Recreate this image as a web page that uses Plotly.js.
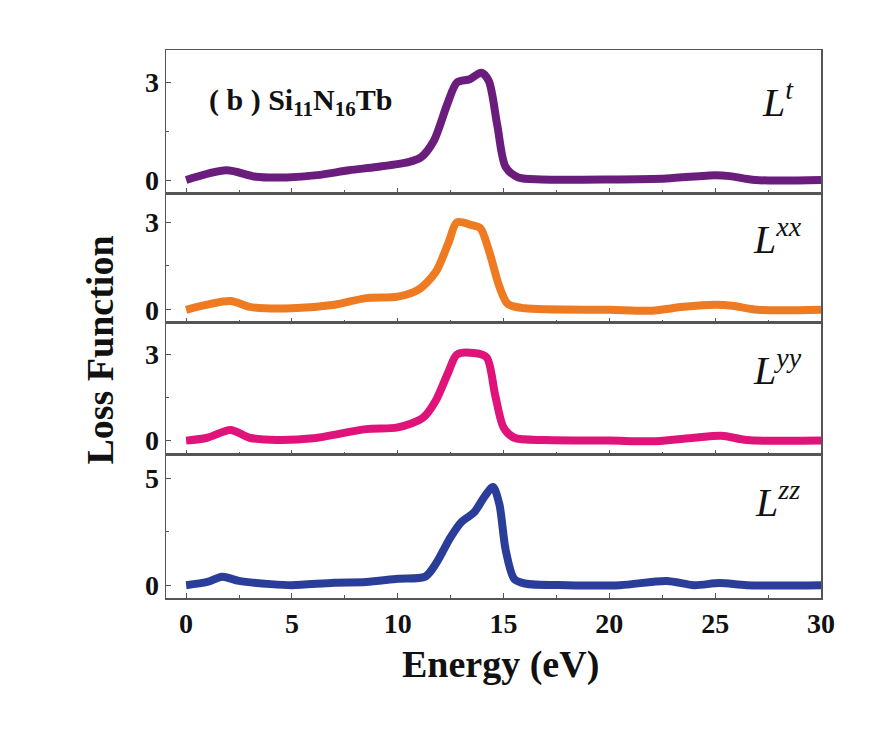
<!DOCTYPE html>
<html><head><meta charset="utf-8">
<script src="https://cdn.plot.ly/plotly-3.0.1.min.js"></script>
<style>html,body{margin:0;padding:0;background:#fff}#c{width:888px;height:734px}</style>
</head><body><div id="c"></div>
<script>
const xT = [0,1.9,3.3,4.75,6.2,7.7,9.0,10.5,11.1,11.7,12.35,12.8,13.4,13.95,14.3,14.7,15.1,15.7,16.8,20,22.7,25.0,25.7,26.9,30];
const yT = [0,0.3,0.1,0.08,0.15,0.3,0.4,0.55,0.7,1.2,2.35,3.0,3.1,3.3,3.05,1.7,0.4,0.08,0.02,0.02,0.05,0.15,0.12,0,0];
const xXX = [0,2.1,3,5,7,8.5,10,11,11.8,12.4,12.8,13.5,13.9,14.3,14.8,15.2,16,20,22,23.5,25,25.8,27,30];
const yXX = [0,0.3,0.1,0.05,0.17,0.4,0.45,0.7,1.3,2.3,3.0,2.9,2.8,2.05,0.8,0.2,0.05,0,-0.03,0.1,0.17,0.14,0,0];
const xYY = [0,1,2.1,3,4.3,6,8.5,10,11.2,11.8,12.4,12.8,13.6,14.2,14.6,15.0,15.5,17,20,22.2,24,25.3,26.5,30];
const yYY = [0,0.1,0.37,0.1,0.02,0.08,0.4,0.46,0.8,1.4,2.4,3.0,3.05,2.9,1.6,0.46,0.1,0.02,0,-0.02,0.1,0.17,0.02,0];
const xZZ = [0,1,1.7,2.5,4,5,7,8.5,10,11.3,11.8,12.5,13,13.6,14.1,14.5,14.8,15.1,15.5,16,18,20.5,22.7,24,25.2,26.5,30];
const yZZ = [0,0.15,0.4,0.2,0.05,0,0.12,0.15,0.3,0.4,1.0,2.25,2.95,3.4,4.15,4.6,3.8,1.65,0.3,0.08,0,0,0.2,0,0.1,0,0];
const labels = ["L<sup>t</sup>","L<sup>xx</sup>","L<sup>yy</sup>","L<sup>zz</sup>"];
const colors = ["#6b1d7e","#ee7a22","#e0137a","#2a3d98"];
const xTicks = [0,5,10,15,20,25,30];

const serif = "Liberation Serif, Times New Roman, serif";
const mk = (x,y,i) => ({x:x,y:y,type:'scatter',mode:'lines',line:{color:colors[i],width:8,shape:'spline',smoothing:0.8},
  xaxis: i===0?'x':'x'+(i+1), yaxis: i===0?'y':'y'+(i+1), showlegend:false, hoverinfo:'skip'});
const data = [mk(xT,yT,0),mk(xXX,yXX,1),mk(xYY,yYY,2),mk(xZZ,yZZ,3)];

const ax = (extra) => Object.assign({showline:true,linecolor:'#555',linewidth:1.5,mirror:true,ticks:'inside',ticklen:5,
  tickcolor:'#555',showgrid:false,zeroline:false,tickfont:{family:serif,size:28,color:'#111',weight:'bold'}},extra);
const xbase = (anchor,show) => ax({range:[-0.95,30],tickvals:xTicks,showticklabels:show,anchor:anchor,matches:anchor==='y4'?undefined:'x4',
  minor:{ticks:'inside',ticklen:3,dtick:2.5,tick0:0,tickcolor:'#555'}});
const layout = {
  width:888,height:734,margin:{l:166,r:67,t:50,b:136},paper_bgcolor:'#fff',plot_bgcolor:'#fff',
  xaxis: xbase('y',false), xaxis2: xbase('y2',false), xaxis3: xbase('y3',false), xaxis4: xbase('y4',true),
  yaxis: ax({domain:[0.739,1],range:[-0.4,4.0],tickvals:[0,3],minor:{ticks:'inside',ticklen:3,tickvals:[1.5],tickcolor:'#555'}}),
  yaxis2: ax({domain:[0.502,0.739],range:[-0.45,4.0],tickvals:[0,3],minor:{ticks:'inside',ticklen:3,tickvals:[1.5],tickcolor:'#555'}}),
  yaxis3: ax({domain:[0.261,0.502],range:[-0.5,4.1],tickvals:[0,3],minor:{ticks:'inside',ticklen:3,tickvals:[1.5],tickcolor:'#555'}}),
  yaxis4: ax({domain:[0,0.261],range:[-0.6,6.1],tickvals:[0,5],minor:{ticks:'inside',ticklen:3,tickvals:[2.5],tickcolor:'#555'}}),
  annotations:[
    {text:"( b ) Si<sub>11</sub>N<sub>16</sub>Tb",xref:'paper',yref:'paper',x:0.062,y:0.905,xanchor:'left',yanchor:'middle',showarrow:false,
      font:{family:serif,size:30,color:'#111',weight:'bold'}},
    {text:"<i>"+labels[0]+"</i>",xref:'paper',yref:'paper',x:0.934,y:0.909,xanchor:'center',yanchor:'middle',showarrow:false,font:{family:serif,size:40,color:'#111'}},
    {text:"<i>"+labels[1]+"</i>",xref:'paper',yref:'paper',x:0.934,y:0.659,xanchor:'center',yanchor:'middle',showarrow:false,font:{family:serif,size:40,color:'#111'}},
    {text:"<i>"+labels[2]+"</i>",xref:'paper',yref:'paper',x:0.934,y:0.42,xanchor:'center',yanchor:'middle',showarrow:false,font:{family:serif,size:40,color:'#111'}},
    {text:"<i>"+labels[3]+"</i>",xref:'paper',yref:'paper',x:0.934,y:0.179,xanchor:'center',yanchor:'middle',showarrow:false,font:{family:serif,size:40,color:'#111'}},
    {text:"Loss Function",xref:'paper',yref:'paper',x:-0.101,y:0.453,textangle:-90,xanchor:'center',yanchor:'middle',showarrow:false,
      font:{family:serif,size:38,color:'#111',weight:'bold'}},
    {text:"Energy (eV)",xref:'paper',yref:'paper',x:0.51,y:-0.122,xanchor:'center',yanchor:'middle',showarrow:false,
      font:{family:serif,size:38,color:'#111',weight:'bold'}}
  ]
};
Plotly.newPlot('c',data,layout,{staticPlot:true,displayModeBar:false});
</script></body></html>
